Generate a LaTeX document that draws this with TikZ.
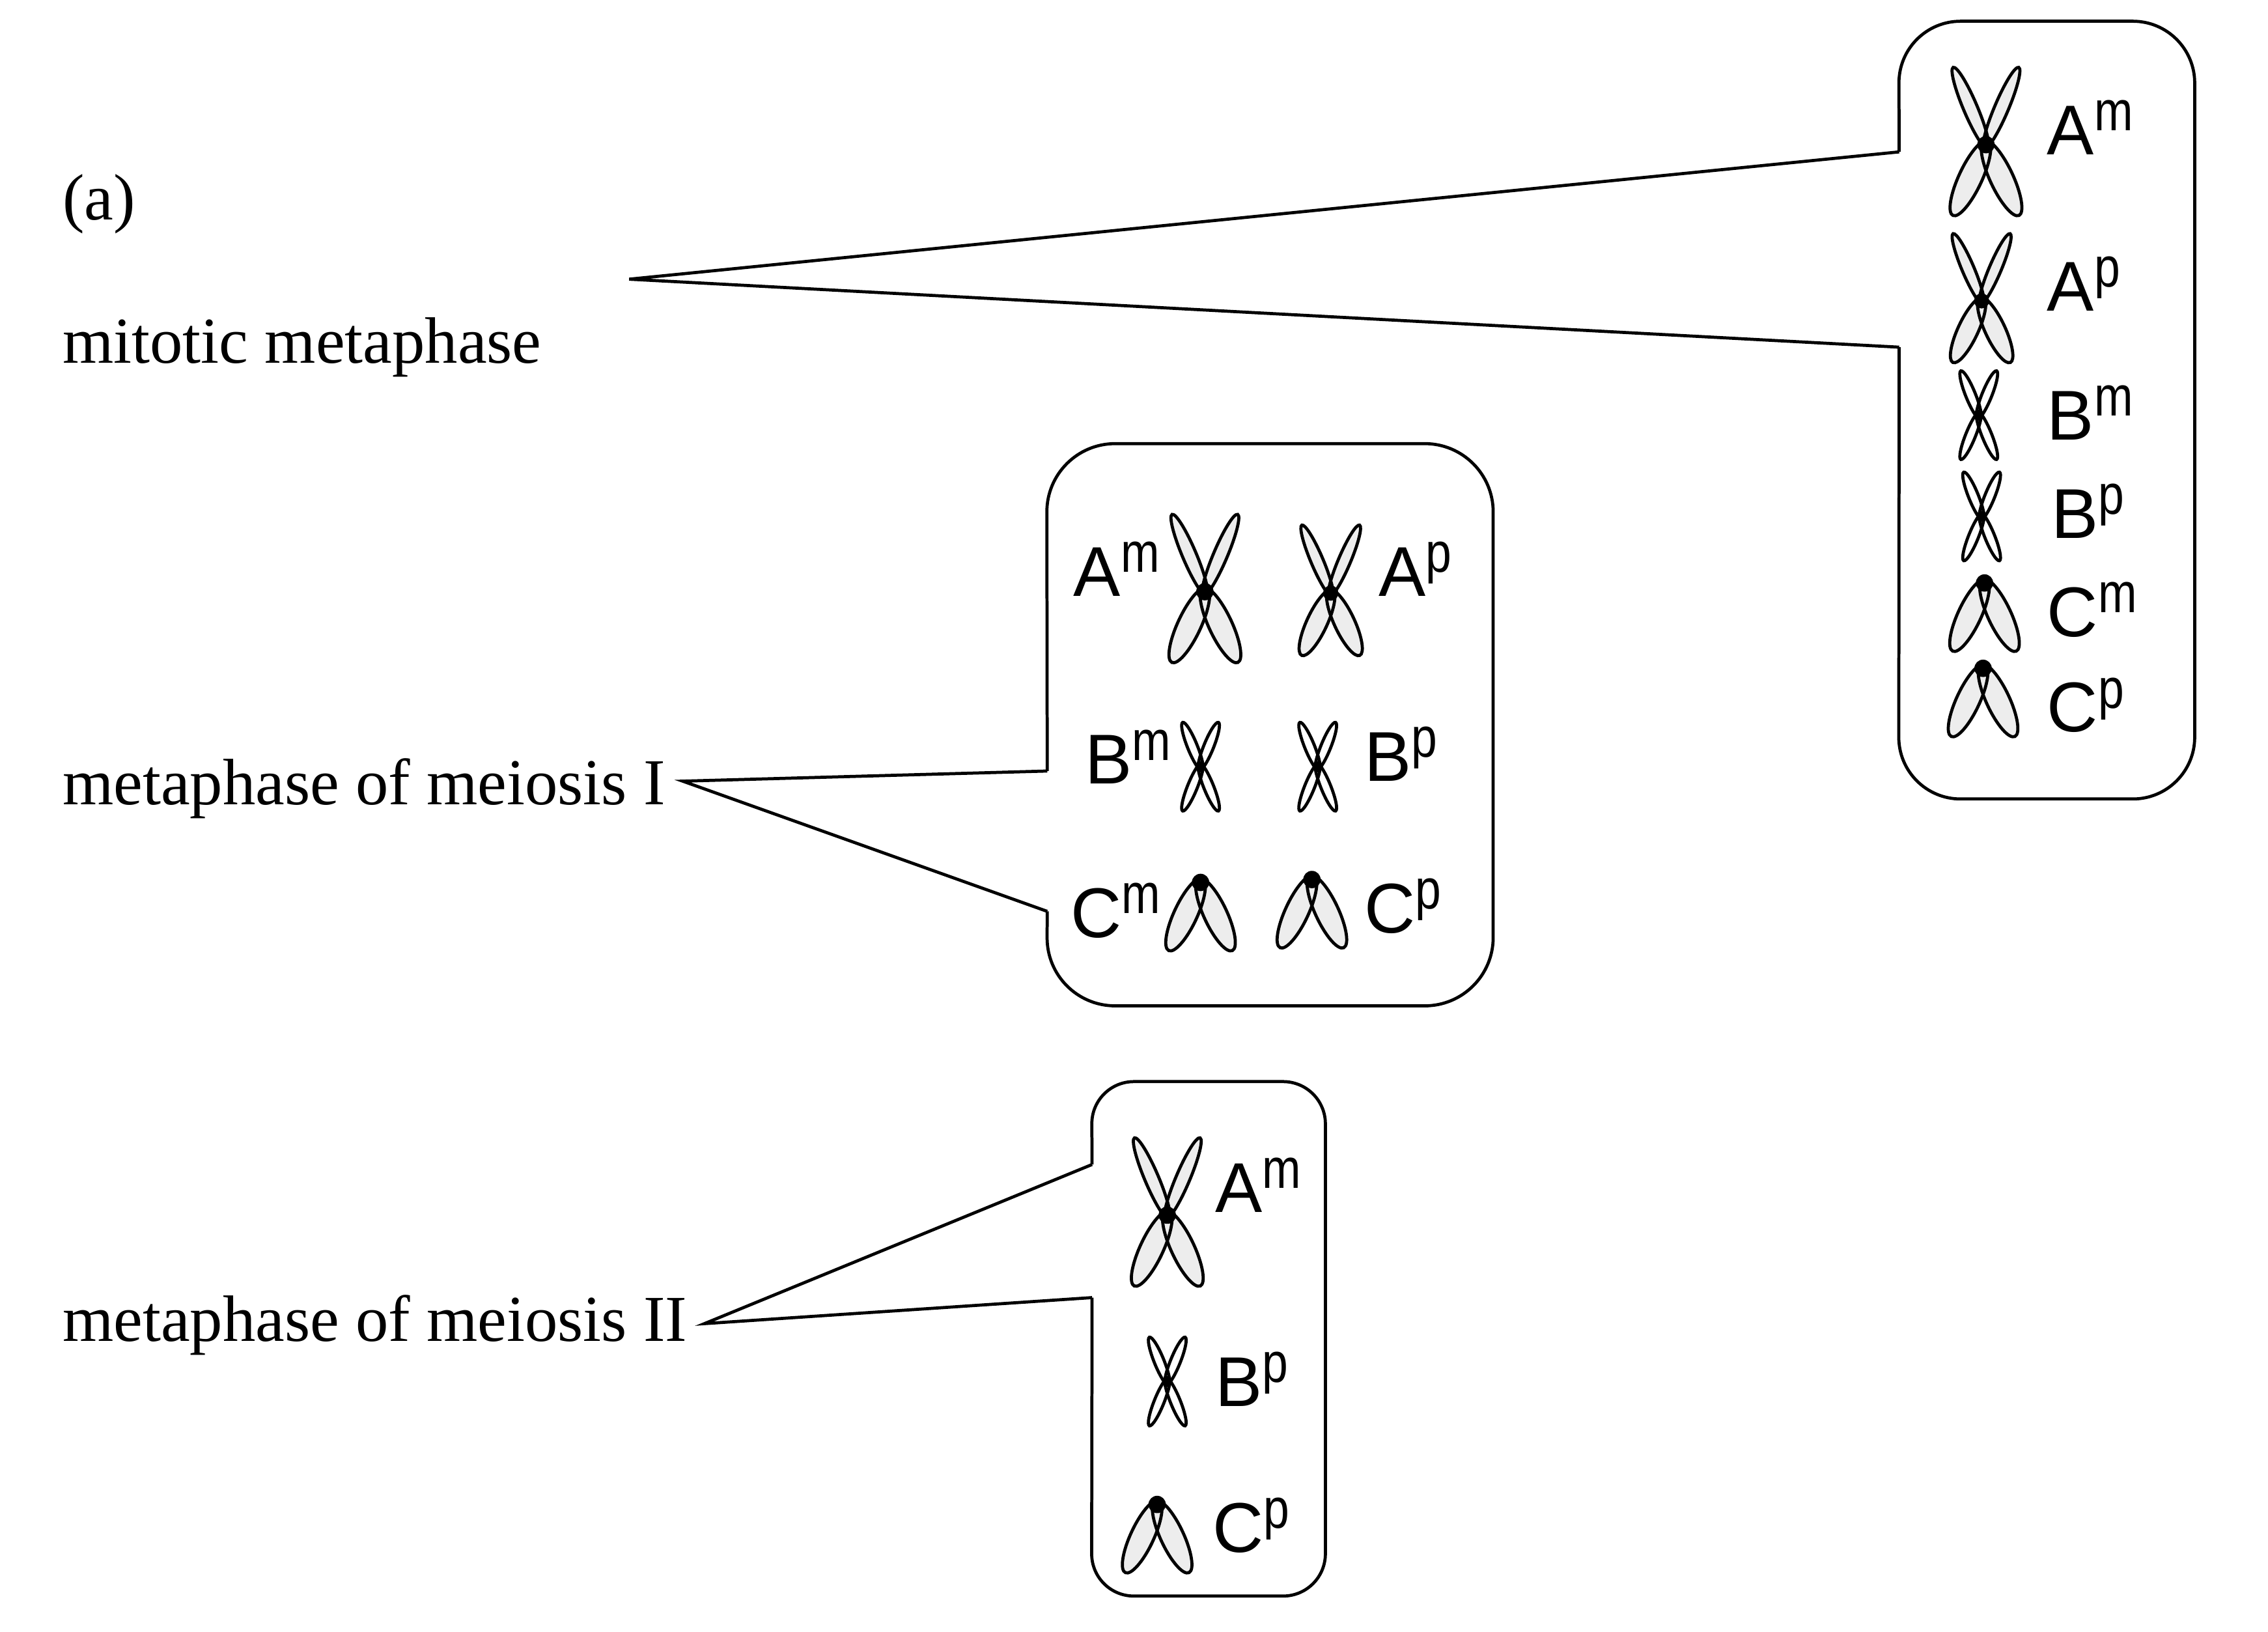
\documentclass[tikz,border=0pt]{standalone}
\usepackage{fontspec}
\setmainfont{Liberation Serif}
\setsansfont{Liberation Sans}
\usetikzlibrary{fit}

\newcommand\chlab[2]{#1\raisebox{.34em}{\scalebox{.66}[.8]{#2}}}
\newcommand\chromlobes[2]{%
  \foreach \a/\l/\w in {#1}
    \fill[#2, rotate=\a] ({(\l-3)/2},0) ellipse [x radius={(\l+3)/2}, y radius=\w];
  \foreach \a/\l/\w in {#1}
    \draw[lobeline, rotate=\a] ({(\l-3)/2},0) ellipse [x radius={(\l+3)/2}, y radius=\w];
}

\tikzset{
  stage/.style={font=\fontsize{28.65}{34}\selectfont, anchor=base west, inner sep=0pt},
  chlabel/.style={font=\sffamily\fontsize{30.8}{36}\selectfont, anchor=base west, inner sep=0pt},
  callout/.style={draw=black, line width=1.35pt},
  lobeline/.style={draw=black, line width=1.35pt},
  grey lobe/.style={fill=gray!14},
  white lobe/.style={fill=white},
  chromX/.pic={\chromlobes{67/58/4.8,113/58/4.8,245/54/8,295/54/8}{grey lobe}
    \fill (0,0) circle [radius=6];},
  chromx/.pic={\chromlobes{68/33/3.4,112/33/3.4,248/33/3.4,292/33/3.4}{white lobe}
    \fill (0,0) circle [radius=2.2];},
  chromV/.pic={\chromlobes{245/52/8,295/52/8}{grey lobe}
    \fill (0,0) circle [radius=6];},
}

\begin{document}
\begin{tikzpicture}[x=0.022213cm, y=-0.022213cm]
\fill[white] (0,0) rectangle (1568,1128);
\useasboundingbox (0,0) rectangle (1568,1128);

% stage names
\node[stage] (part) at (43,152) {(a)};
\node[stage] (mit) at (43,251) {mitotic metaphase};
\node[stage] (meiI) at (43,556) {metaphase of meiosis I};
\node[stage] (meiII) at (43,927) {metaphase of meiosis II};

% mitotic metaphase
\node[fit={(1313,15) (1517,552)}, inner sep=0pt] (boxM) {};
\coordinate (tipM) at (435,193);
\coordinate (upM) at (1313,105);
\coordinate (dnM) at (1313,240);
\draw[callout, rounded corners=0.95cm] (dnM) -- (boxM.south west) -- (boxM.south east)
  -- (boxM.north east) -- (boxM.north west) -- (upM);
\draw[callout] (upM) -- (tipM) -- (dnM);
\pic at (1373,100) {chromX};
\pic[scale=0.87] at (1370,208) {chromX};
\pic at (1368,287) {chromx};
\pic at (1370,357) {chromx};
\pic at (1372,403) {chromV};
\pic at (1371,462) {chromV};
\node[chlabel] (mAm) at (1415,107) {\chlab{A}{m}};
\node[chlabel] (mAp) at (1415,215) {\chlab{A}{p}};
\node[chlabel] (mBm) at (1415,304) {\chlab{B}{m}};
\node[chlabel] (mBp) at (1418,372) {\chlab{B}{p}};
\node[chlabel] (mCm) at (1415,440) {\chlab{C}{m}};
\node[chlabel] (mCp) at (1415,506) {\chlab{C}{p}};

% metaphase of meiosis I
\node[fit={(724,307) (1032,695)}, inner sep=0pt] (boxI) {};
\coordinate (tipI) at (472,540);
\coordinate (upI) at (724,533);
\coordinate (dnI) at (724,630);
\draw[callout, rounded corners=1.05cm] (dnI) -- (boxI.south west) -- (boxI.south east)
  -- (boxI.north east) -- (boxI.north west) -- (upI);
\draw[callout] (upI) -- (tipI) -- (dnI);
\pic at (833,409) {chromX};
\pic[scale=0.88] at (920,410) {chromX};
\pic at (830,530) {chromx};
\pic at (911,530) {chromx};
\pic at (830,610) {chromV};
\pic at (907,608) {chromV};
\node[chlabel] (iAm) at (742,412) {\chlab{A}{m}};
\node[chlabel] (iAp) at (953,412) {\chlab{A}{p}};
\node[chlabel] (iBm) at (750,542) {\chlab{B}{m}};
\node[chlabel] (iBp) at (943,540) {\chlab{B}{p}};
\node[chlabel] (iCm) at (740,648) {\chlab{C}{m}};
\node[chlabel] (iCp) at (943,645) {\chlab{C}{p}};

% metaphase of meiosis II
\node[fit={(755,748) (916,1103)}, inner sep=0pt] (boxII) {};
\coordinate (tipII) at (487,915);
\coordinate (upII) at (755,805);
\coordinate (dnII) at (755,897);
\draw[callout, rounded corners=0.65cm] (dnII) -- (boxII.south west) -- (boxII.south east)
  -- (boxII.north east) -- (boxII.north west) -- (upII);
\draw[callout] (upII) -- (tipII) -- (dnII);
\pic at (807,840) {chromX};
\pic at (807,955) {chromx};
\pic at (800,1040) {chromV};
\node[chlabel] (iiAm) at (840,838) {\chlab{A}{m}};
\node[chlabel] (iiBp) at (840,972) {\chlab{B}{p}};
\node[chlabel] (iiCp) at (838,1073) {\chlab{C}{p}};
\end{tikzpicture}
\end{document}
